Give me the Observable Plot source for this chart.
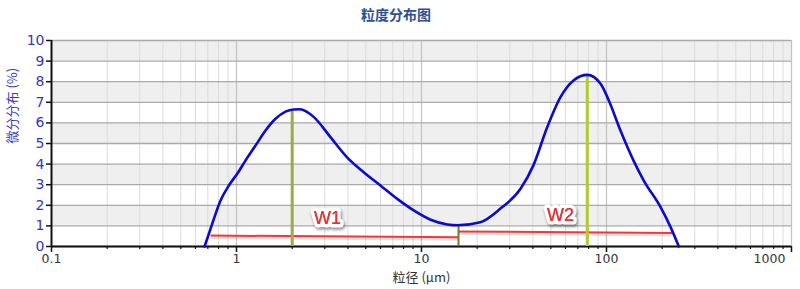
<!DOCTYPE html>
<html>
<head>
<meta charset="utf-8">
<script src="https://cdn.jsdelivr.net/npm/d3@7"></script>
<script src="https://cdn.jsdelivr.net/npm/@observablehq/plot@0.6"></script>
<style>
  body { margin: 0; background: #fff; }
  #title { height: 28px; line-height: 28px; text-align: center; font-family: "Noto Sans CJK SC", sans-serif;
           font-weight: bold; font-size: 14px; color: #2f4f8f; padding-right: 8px; }
</style>
</head>
<body>
<div id="title">粒度分布图</div>
<div id="chart"></div>
<script>
// particle size (μm) and differential distribution (%)
const sizes = [0.672, 0.739, 0.82, 0.909, 1.009, 1.118, 1.267, 1.435, 1.625, 1.84, 2.04, 2.2, 2.62, 3.22, 3.96, 4.87, 6.0, 7.39, 9.08, 11.2, 13.8, 15.6, 20.8, 26.7, 34.3, 40.3, 47.8, 56.4, 66.3, 78.7, 92.9, 102.9, 119, 140, 159, 196, 222, 246];
const freq  = [0,     1.1,   2.23, 2.96,  3.53,  4.17,  4.9,   5.63,  6.2,   6.55, 6.65, 6.66, 6.28, 5.31, 4.33, 3.61, 2.96, 2.31, 1.75, 1.30, 1.07, 1.03, 1.18, 1.84, 2.8,  3.95, 5.79, 7.25, 8.06, 8.33, 7.9,  7.09,  5.63, 4.17, 3.2, 1.91, 0.94, 0];

// W1 / W2 peaks
const peakNames = ["W1", "W2"];
const peakSizes = [2.0, 78.7];
const peakHeights = [6.55, 8.25];
const peakColors = ["#9aab4a", "#b2cc2e"];
// split point between the two populations
const splitSize = 15.85;
const splitHeight = 1.0;
// red baselines of each population
const baseX1 = [0.724, 15.85];
const baseX2 = [15.85, 226];
const baseY1 = [0.53, 0.73];
const baseY2 = [0.45, 0.66];
// label anchors
const labelSizes = [3.1, 56.4];
const labelValues = [1.36, 1.5];

// ticks
const yTicks = [0, 1, 2, 3, 4, 5, 6, 7, 8, 9, 10];
const bands = [1, 3, 5, 7, 9];
const xMajor = [0.1, 1, 10, 100, 1000];
const xMajorLabels = ["0.1", "1", "10", "100"];
const xMinor = [0.2,0.3,0.4,0.5,0.6,0.7,0.8,0.9, 2,3,4,5,6,7,8,9, 20,30,40,50,60,70,80,90, 200,300,400,500,600,700,800,900];

const curve = sizes.map((s, i) => ({size: s, v: freq[i]}));
const peaks = peakNames.map((n, i) => ({name: n, size: peakSizes[i], h: peakHeights[i], color: peakColors[i]}));
const bases = baseX1.map((x, i) => ({x1: x, x2: baseX2[i], y1: baseY1[i], y2: baseY2[i]}));
const labels = peakNames.map((n, i) => ({name: n, size: labelSizes[i], v: labelValues[i]}));

const blue = "#3434c4";
const chart = Plot.plot({
  width: 800,
  height: 261,
  marginTop: 12,
  marginBottom: 43,
  marginLeft: 51,
  marginRight: 9,
  style: {fontFamily: "DejaVu Sans, sans-serif", background: "#fff", overflow: "visible"},
  x: {type: "log", domain: [0.1, 1000], axis: null},
  y: {domain: [0, 10], axis: null},
  marks: [
    Plot.rect(bands, {y1: d => d, y2: d => d + 1, fill: "#efefef"}),
    Plot.ruleX(xMinor, {stroke: "#dcdcdc", strokeWidth: 1}),
    Plot.ruleX([1, 10, 100, 1000], {stroke: "#c4c4c4", strokeWidth: 1.2}),
    Plot.ruleY(yTicks, {stroke: "#aaaaaa", strokeWidth: 1.3}),
    // axis lines
    Plot.ruleX([0.1], {stroke: "#111", strokeWidth: 2}),
    Plot.ruleY([0], {stroke: "#111", strokeWidth: 2}),
    // y ticks & labels
    Plot.axisY(yTicks, {tickSize: 5, tickFormat: () => "", stroke: "#111", strokeWidth: 1.5}),
    Plot.text(yTicks, {y: d => d, frameAnchor: "left", dx: -7, textAnchor: "end", text: d => String(d), fill: blue, fontSize: 14}),
    // x ticks
    Plot.axisX(xMajor, {tickSize: 6, tickFormat: () => "", stroke: "#111", strokeWidth: 1.5}),
    Plot.axisX(xMinor, {tickSize: 3, tickFormat: () => "", stroke: "#111", strokeWidth: 1.2}),
    // x labels
    Plot.text(xMajorLabels, {x: d => +d, frameAnchor: "bottom", dy: 16, text: d => d, fill: "#333", fontSize: 12.5}),
    Plot.text(["1000"], {x: d => +d, frameAnchor: "bottom", dy: 16, dx: -22, text: d => d, fill: "#333", fontSize: 12.5}),
    // axis titles
    Plot.text(["微分分布 (%)"], {frameAnchor: "left", dx: -39, rotate: -90, text: d => d, fill: blue, fontSize: 13, fontFamily: "Noto Sans CJK SC, sans-serif"}),
    Plot.text(["粒径 (μm)"], {frameAnchor: "bottom", dy: 35, text: d => d, fill: "#333", fontSize: 13, fontFamily: "Noto Sans CJK SC, sans-serif"}),
    // red baselines (shadow + line)
    Plot.link(bases, {x1: "x1", x2: "x2", y1: "y1", y2: "y2", stroke: "#000", strokeOpacity: 0.12, strokeWidth: 3, dy: 2}),
    Plot.link(bases, {x1: "x1", x2: "x2", y1: "y1", y2: "y2", stroke: "#f03a3a", strokeWidth: 2}),
    // peak verticals
    Plot.ruleX(peaks, {x: "size", y1: 0, y2: "h", stroke: "color", strokeWidth: 3}),
    Plot.ruleX([splitSize], {x: d => d, y1: 0, y2: splitHeight, stroke: "#6f7d33", strokeWidth: 2}),
    // distribution curve
    Plot.line(curve, {x: "size", y: "v", stroke: "#0a0ad0", strokeWidth: 2.6, curve: "monotone-x"}),
    // W labels
    Plot.text(labels, {x: "size", y: "v", text: "name", fill: "#e8303c", stroke: "white", strokeWidth: 7, strokeLinejoin: "round",
      fontSize: 18, fontFamily: "Liberation Sans, Arial, sans-serif", imageFilter: "drop-shadow(1px 2px 1.5px rgba(0,0,0,0.45))"}),
    Plot.text(labels, {x: "size", y: "v", text: "name", fill: "#e8303c", fontSize: 18, fontFamily: "Liberation Sans, Arial, sans-serif"})
  ]
});
document.getElementById("chart").appendChild(chart);
</script>
</body>
</html>
